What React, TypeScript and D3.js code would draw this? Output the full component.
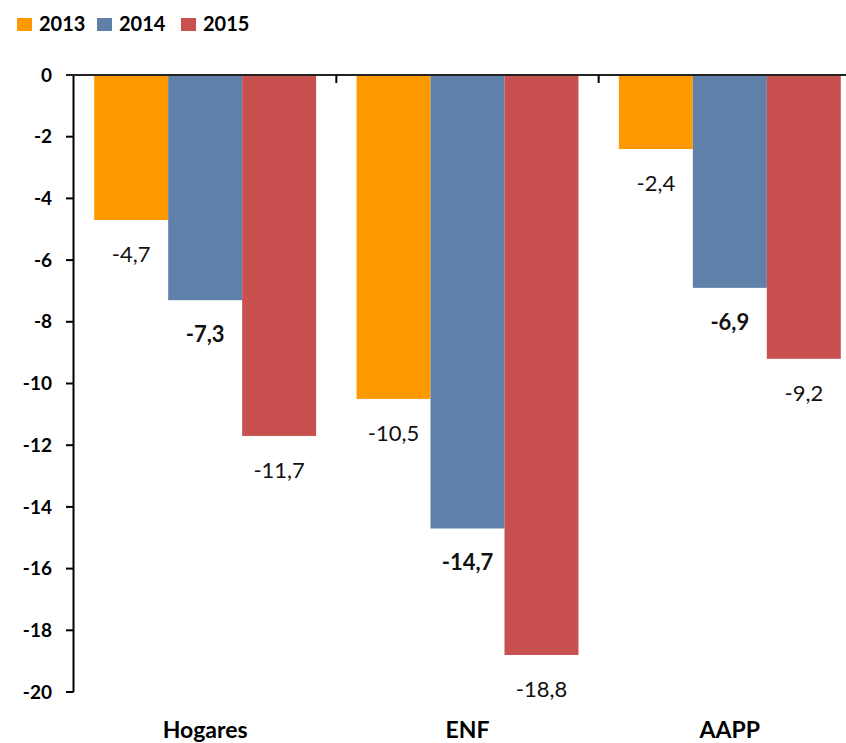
import React, { useRef, useEffect } from "react";
import * as d3 from "d3";

const categories = ["Hogares", "ENF", "AAPP"];
const years = ["2013", "2014", "2015"];
const values2013 = [-4.7, -10.5, -2.4];
const values2014 = [-7.3, -14.7, -6.9];
const values2015 = [-11.7, -18.8, -9.2];
const yTicks = [0, -2, -4, -6, -8, -10, -12, -14, -16, -18, -20];

const colors = ["#ff9900", "#5f80a9", "#c8504f"];
const boldYear = "2014";

const W = 846;
const H = 743;
const FONT = "Lato, 'Open Sans', sans-serif";

export default function App() {
  const svgRef = useRef<SVGSVGElement>(null);

  useEffect(() => {
    document.body.style.margin = "0";
    const svg = d3.select(svgRef.current);
    svg.selectAll("*").remove();

    const series = [values2013, values2014, values2015];

    const x = d3
      .scaleBand()
      .domain(categories)
      .range([74, 861])
      .paddingInner(0.154)
      .paddingOuter(0.077);
    const xInner = d3.scaleBand().domain(years).range([0, x.bandwidth()]);
    const y = d3.scaleLinear().domain([-20, 0]).range([692, 75]);
    const color = d3.scaleOrdinal<string>().domain(years).range(colors);

    // bars
    const groups = svg
      .append("g")
      .selectAll("g")
      .data(categories)
      .enter()
      .append("g")
      .attr("transform", (c) => `translate(${x(c)},0)`);

    groups
      .selectAll("rect")
      .data((c, ci) => years.map((yr, si) => ({ yr, v: series[si][ci] })))
      .enter()
      .append("rect")
      .attr("x", (d) => xInner(d.yr)!)
      .attr("width", xInner.bandwidth())
      .attr("y", y(0))
      .attr("height", (d) => y(d.v) - y(0))
      .attr("fill", (d) => color(d.yr));

    groups
      .selectAll("text")
      .data((c, ci) => years.map((yr, si) => ({ yr, v: series[si][ci] })))
      .enter()
      .append("text")
      .attr("x", (d) => xInner(d.yr)! + xInner.bandwidth() / 2)
      .attr("y", (d) => y(d.v) + 42)
      .attr("text-anchor", "middle")
      .attr("font-family", FONT)
      .attr("font-size", 22)
      .attr("font-weight", (d) => (d.yr === boldYear ? "bold" : "normal"))
      .attr("fill", "#111")
      .text((d) => d.v.toFixed(1).replace(".", ","));

    // y axis
    const yAxis = svg.append("g");
    yAxis
      .append("line")
      .attr("x1", 73.5)
      .attr("x2", 73.5)
      .attr("y1", y(0))
      .attr("y2", y(-20))
      .attr("stroke", "#000")
      .attr("stroke-width", 2);
    yAxis
      .selectAll(".tick")
      .data(yTicks)
      .enter()
      .append("line")
      .attr("x1", 66)
      .attr("x2", 73.5)
      .attr("y1", (d) => y(d))
      .attr("y2", (d) => y(d))
      .attr("stroke", "#000")
      .attr("stroke-width", 2);
    yAxis
      .selectAll("text")
      .data(yTicks)
      .enter()
      .append("text")
      .attr("x", 52)
      .attr("y", (d) => y(d))
      .attr("dy", "0.35em")
      .attr("text-anchor", "end")
      .attr("font-family", FONT)
      .attr("font-size", 19)
      .attr("font-weight", "bold")
      .text((d) => String(d));

    // category axis along zero
    const step = x.step();
    const gap = step - x.bandwidth();
    svg
      .append("line")
      .attr("x1", 66)
      .attr("x2", W)
      .attr("y1", y(0))
      .attr("y2", y(0))
      .attr("stroke", "#222")
      .attr("stroke-width", 2);
    svg
      .append("g")
      .selectAll("line")
      .data(categories.slice(1))
      .enter()
      .append("line")
      .attr("x1", (c) => x(c)! - gap / 2)
      .attr("x2", (c) => x(c)! - gap / 2)
      .attr("y1", y(0))
      .attr("y2", y(0) + 8)
      .attr("stroke", "#000")
      .attr("stroke-width", 2);
    svg
      .append("g")
      .selectAll("text")
      .data(categories)
      .enter()
      .append("text")
      .attr("x", (c) => x(c)! + x.bandwidth() / 2)
      .attr("y", 738)
      .attr("text-anchor", "middle")
      .attr("font-family", FONT)
      .attr("font-size", 23)
      .attr("font-weight", "bold")
      .text((c) => c);

    // legend
    const legendX = [17, 97, 181];
    const legend = svg
      .append("g")
      .selectAll("g")
      .data(years)
      .enter()
      .append("g")
      .attr("transform", (d, i) => `translate(${legendX[i]},18)`);
    legend
      .append("rect")
      .attr("width", 15)
      .attr("height", 13)
      .attr("fill", (d) => color(d));
    legend
      .append("text")
      .attr("x", 22)
      .attr("y", 13)
      .attr("font-family", FONT)
      .attr("font-size", 20)
      .attr("font-weight", "bold")
      .text((d) => d);
  }, []);

  return (
    <div>
      <svg ref={svgRef} width={W} height={H} style={{ display: "block", background: "#fff" }}></svg>
    </div>
  );
}
